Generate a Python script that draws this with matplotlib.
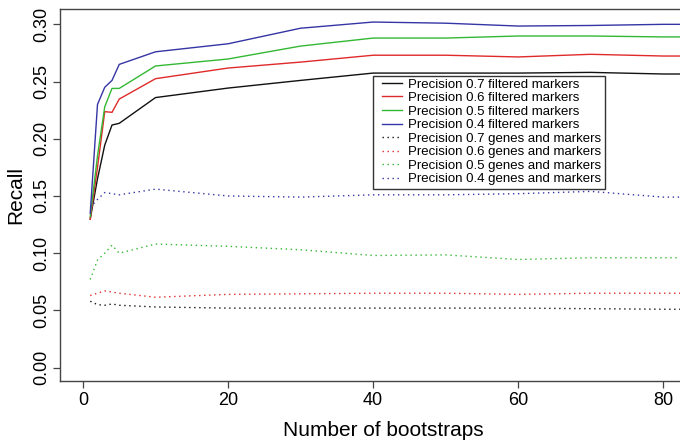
import matplotlib
matplotlib.use("Agg")
import matplotlib.pyplot as plt
from matplotlib.patches import Rectangle

plt.rcParams['font.family'] = ['Liberation Sans', 'DejaVu Sans']

# recall vs number of bootstraps, per precision cut-off
bootstraps = [1, 2, 3, 4, 5, 10, 20, 30, 40, 50, 60, 70, 80, 90]

filt_07 = [0.130, 0.165, 0.1945, 0.212, 0.2135, 0.236, 0.2443, 0.251, 0.2574, 0.2574, 0.2574, 0.258, 0.2566, 0.2566]
filt_06 = [0.1296, 0.175, 0.2237, 0.2231, 0.2347, 0.2525, 0.2618, 0.267, 0.273, 0.273, 0.2715, 0.2738, 0.2723, 0.2723]
filt_05 = [0.132, 0.185, 0.228, 0.244, 0.244, 0.2636, 0.2697, 0.281, 0.288, 0.288, 0.2898, 0.2898, 0.289, 0.289]
filt_04 = [0.135, 0.230, 0.245, 0.251, 0.265, 0.276, 0.283, 0.2966, 0.302, 0.301, 0.2985, 0.299, 0.300, 0.300]

genes_07 = [0.058, 0.055, 0.0545, 0.0556, 0.0545, 0.053, 0.052, 0.052, 0.052, 0.052, 0.052, 0.0515, 0.051, 0.051]
genes_06 = [0.063, 0.065, 0.067, 0.066, 0.065, 0.0615, 0.064, 0.0645, 0.065, 0.065, 0.064, 0.065, 0.065, 0.065]
genes_05 = [0.077, 0.094, 0.100, 0.107, 0.100, 0.108, 0.106, 0.103, 0.098, 0.0985, 0.0945, 0.096, 0.096, 0.096]
genes_04 = [0.140, 0.147, 0.153, 0.152, 0.151, 0.156, 0.150, 0.149, 0.151, 0.151, 0.152, 0.154, 0.149, 0.149]

colors = ['#111111', '#e02a2a', '#33b833', '#3535a5']
precisions = ['0.7', '0.6', '0.5', '0.4']
filtered = [filt_07, filt_06, filt_05, filt_04]
genes = [genes_07, genes_06, genes_05, genes_04]

W, H = 680, 445
fig = plt.figure(figsize=(W / 100, H / 100), dpi=100)
# plot region runs past the right edge of the figure
ax = fig.add_axes([60 / W, 64 / H, 646 / W, 372 / H])

for p, ys, c in zip(precisions, filtered, colors):
    ax.plot(bootstraps, ys, color=c, lw=1.0,
            label=f"Precision {p} filtered markers")
for p, ys, c in zip(precisions, genes, colors):
    ax.plot(bootstraps, ys, color=c, lw=1.0, linestyle=(0, (1, 2.6)),
            label=f"Precision {p} genes and markers")

ax.set_xlim(-3.17, 85.9)
ax.set_ylim(-0.0117, 0.3134)

ax.set_xticks([0, 20, 40, 60, 80])
ax.set_yticks([0.0, 0.05, 0.10, 0.15, 0.20, 0.25, 0.30])
ax.set_yticklabels([f"{v:.2f}" for v in ax.get_yticks()],
                   rotation=90, va='center')
ax.tick_params(axis='both', direction='out', length=5, width=0.9,
               color='#444444', labelsize=13)
ax.tick_params(axis='y', pad=2)
ax.tick_params(axis='x', pad=3)

for s in ax.spines.values():
    s.set_color('#444444')
    s.set_linewidth(1.0)

ax.set_xlabel("Number of bootstraps", fontsize=15)
ax.set_ylabel("Recall", fontsize=15)
ax.xaxis.set_label_coords(0.5, -0.1344)
ax.xaxis.label.set_va('center')
ax.yaxis.set_label_coords(-0.0681, 0.5)
ax.yaxis.label.set_va('center')

# legend entries without their own frame; box drawn separately
leg = ax.legend(loc='upper left', bbox_to_anchor=(382 / W, 1 - 78.3 / H),
                bbox_transform=fig.transFigure, borderaxespad=0,
                fontsize=9.5, frameon=False, borderpad=0,
                handlelength=1.5, handletextpad=0.45, labelspacing=0.1)
box = Rectangle((372.7 / W, 1 - 189 / H), (605 - 372.7) / W, (189 - 75.7) / H,
                transform=fig.transFigure, facecolor='white',
                edgecolor='#333333', lw=1.0, zorder=2.5)
ax.add_artist(box)
box.set_clip_on(False)
leg.set_zorder(3)

fig.savefig("out.png", dpi=100)
